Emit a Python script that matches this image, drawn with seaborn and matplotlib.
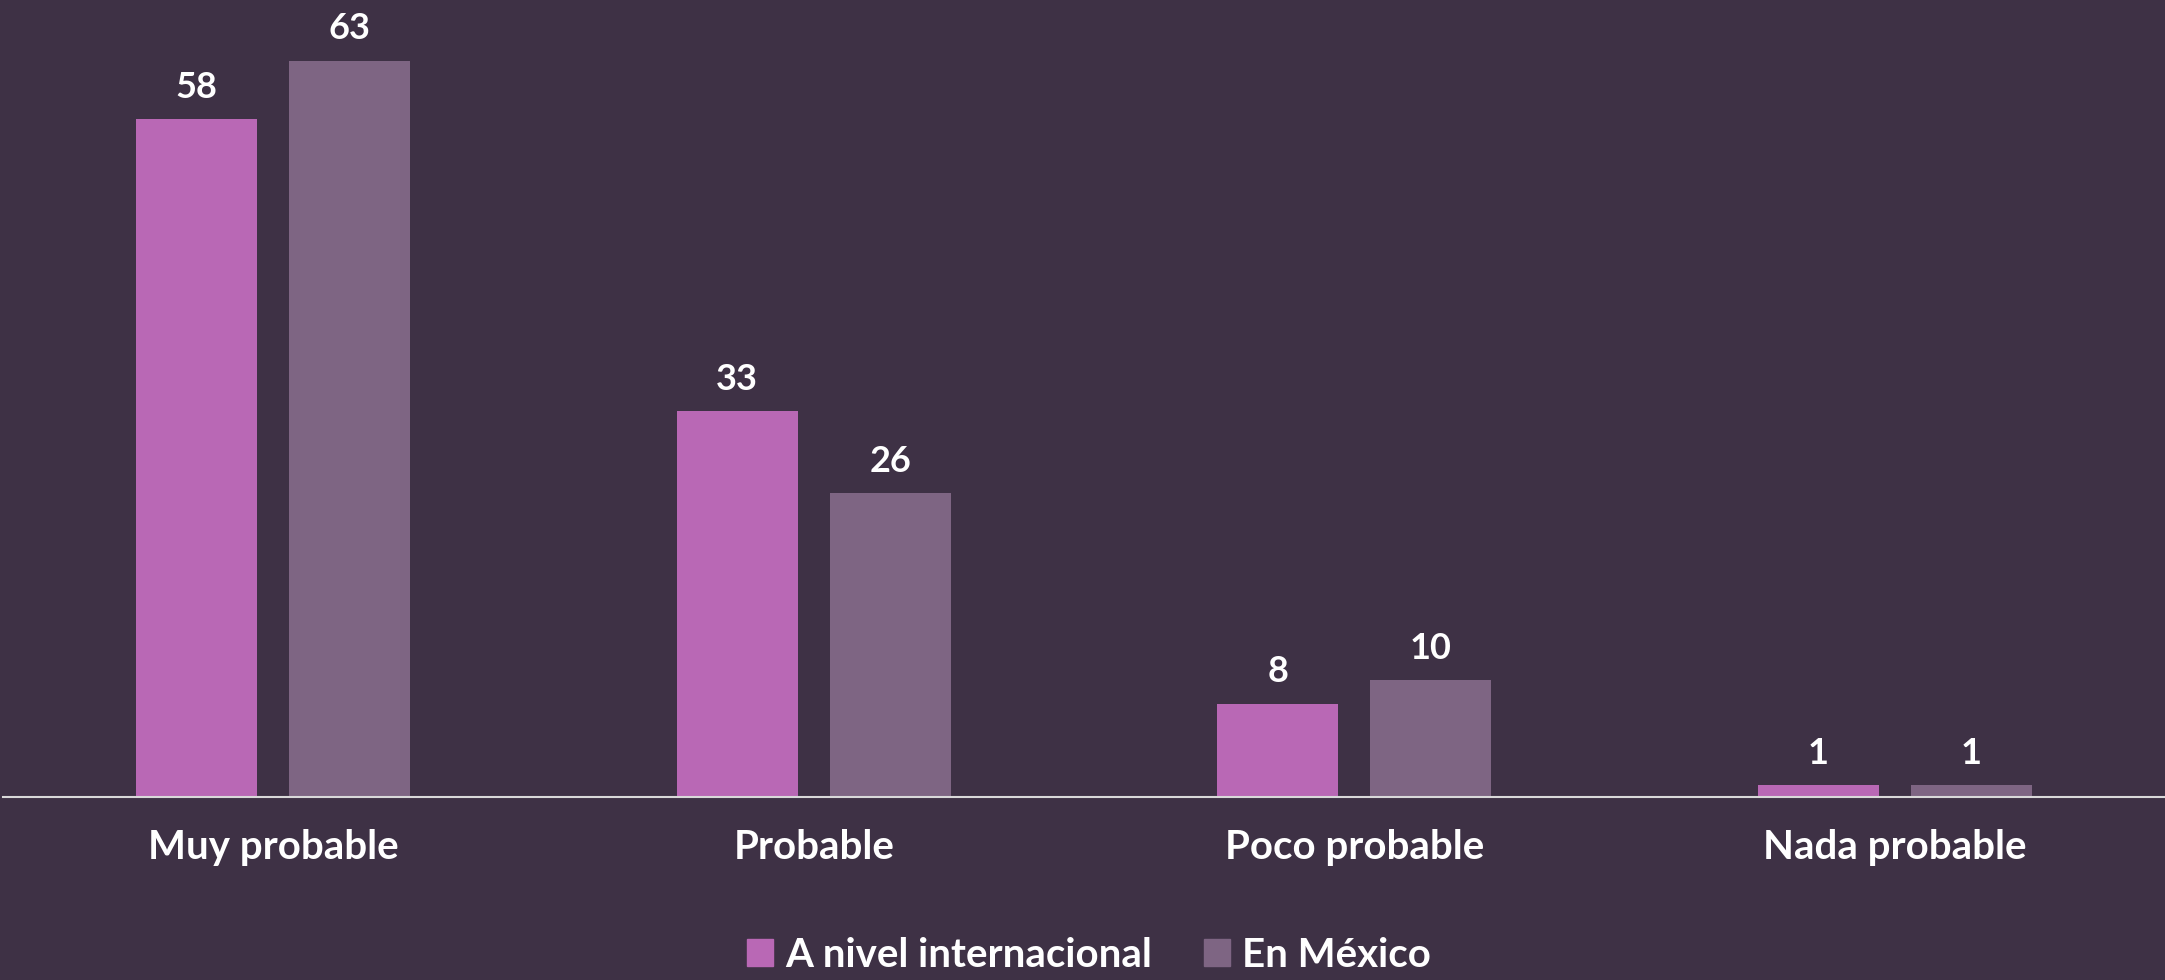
import pandas as pd
import matplotlib.pyplot as plt
import seaborn as sns

# Data
categories = ["Muy probable", "Probable", "Poco probable", "Nada probable"]
internacional = [58, 33, 8, 1]
mexico = [63, 26, 10, 1]
series_names = ["A nivel internacional", "En México"]

bg = "#3E3145"
colors = ["#B968B5", "#7E6583"]

df = pd.DataFrame({
    "categoria": categories * 2,
    "valor": internacional + mexico,
    "serie": [series_names[0]] * len(categories) + [series_names[1]] * len(categories),
})

sns.set_theme(style="white")
plt.rcParams["font.family"] = ["Lato", "DejaVu Sans"]

fig = plt.figure(figsize=(21.65, 9.8), dpi=100, facecolor=bg)
ax = fig.add_axes([0.0014, 183 / 980, 0.9986, 1 - 183 / 980])
ax.set_facecolor(bg)

sns.barplot(data=df, x="categoria", y="valor", hue="serie", palette=colors,
            width=0.567, gap=0.21, saturation=1, linewidth=0, ax=ax, legend=True)

# value labels
for cont in ax.containers:
    ax.bar_label(cont, fmt="%d", padding=11, color="white", fontsize=26, fontweight="bold")

ax.set_ylim(0, 68.2)
ax.set_xlim(-0.5, 3.5)
ax.set_xlabel("")
ax.set_ylabel("")
ax.set_yticks([])
ax.tick_params(axis="x", length=0, pad=23, labelsize=29, labelcolor="white")
for lbl in ax.get_xticklabels():
    lbl.set_fontweight("bold")

for side in ["top", "left", "right"]:
    ax.spines[side].set_visible(False)
ax.spines["bottom"].set_color("#D9D9D9")
ax.spines["bottom"].set_linewidth(1.5)

ax.legend_.remove()
handles = [plt.Rectangle((0, 0), 1, 1, color=c) for c in colors]
leg = fig.legend(handles, series_names, loc="center", bbox_to_anchor=(0.503, 25 / 980),
                 ncol=2, frameon=False, fontsize=29, handlelength=0.65, handleheight=0.65,
                 handletextpad=0.3, columnspacing=1.3)
for t in leg.get_texts():
    t.set_color("white")
    t.set_fontweight("bold")

fig.savefig("out.png", dpi=100, facecolor=bg)
